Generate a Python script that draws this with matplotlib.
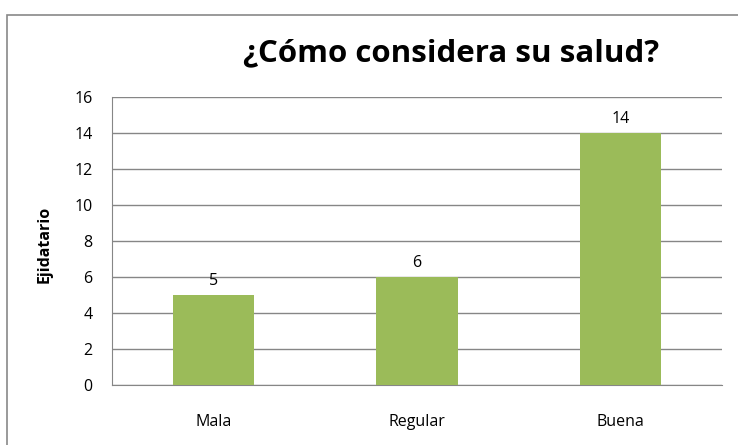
import matplotlib.pyplot as plt
from matplotlib.patches import Rectangle

categories = ['Mala', 'Regular', 'Buena']
values = [5, 6, 14]
yticks = [0, 2, 4, 6, 8, 10, 12, 14, 16]

W, H = 738, 445
fig = plt.figure(figsize=(W / 100, H / 100), dpi=100)
plt.rcParams['font.family'] = ['Open Sans', 'DejaVu Sans']

# chart border (cut off on right and bottom like the reference)
fig.patches.append(Rectangle((7 / W, -0.1), 1.2, 1 - 15 / H + 0.1,
                             transform=fig.transFigure, fill=False,
                             edgecolor='#898989', linewidth=1.2))

# plot area in pixels: x 112..722, y 97..385
ax = fig.add_axes([112 / W, 1 - 385 / H, (722 - 112) / W, (385 - 97) / H])
ax.bar(range(len(categories)), values, width=0.4, color='#9bbb59', zorder=3)
ax.set_xlim(-0.5, 2.5)
ax.set_ylim(0, 16)
ax.set_yticks(yticks)
ax.set_xticks(range(len(categories)))
ax.set_xticklabels(categories)
ax.tick_params(axis='both', length=0, labelsize=11.5, colors='black')
ax.tick_params(axis='x', pad=21)
ax.tick_params(axis='y', pad=14)
ax.grid(axis='y', color='#868686', linewidth=1, zorder=0)
for s in ['top', 'right']:
    ax.spines[s].set_visible(False)
ax.spines['left'].set_color('#868686')
ax.spines['bottom'].set_color('#868686')

# value labels above the bars
for i, v in enumerate(values):
    ax.annotate(str(v), (i, v), xytext=(0, 7.5), textcoords='offset points',
                ha='center', va='baseline', fontsize=11.5)

ax.set_ylabel('Ejidatario', fontsize=11.5, fontweight='bold')
ax.yaxis.set_label_coords(-59 / 610, 0.49)

fig.text(451 / W, 1 - 53 / H, '¿Cómo considera su salud?', ha='center',
         va='center', fontsize=22.5, fontweight='bold')

fig.savefig('out.png', dpi=100)
